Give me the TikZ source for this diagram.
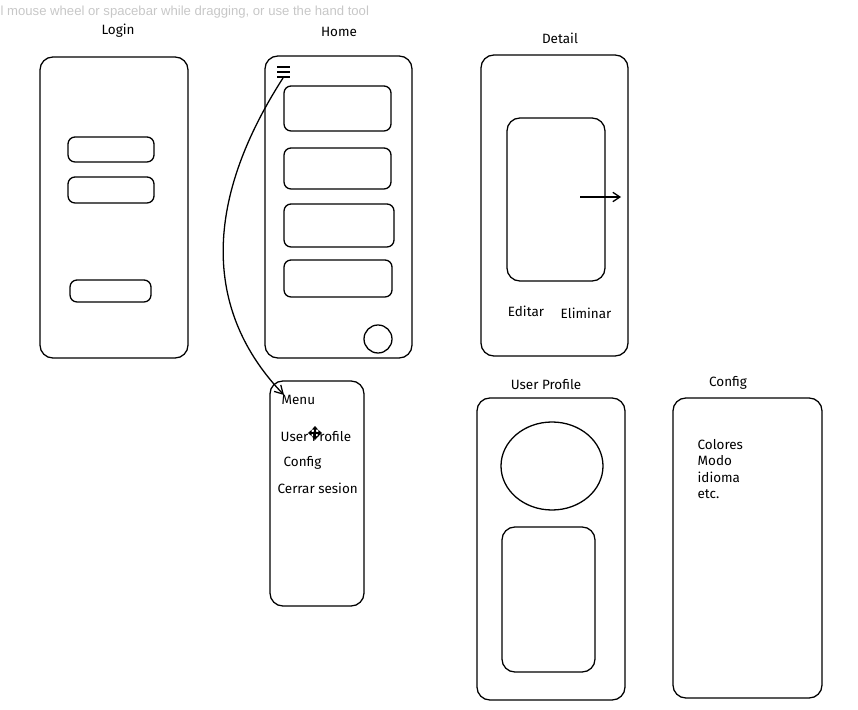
\documentclass[tikz,border=0pt]{standalone}
\usepackage{fontspec}
\setmainfont{Fira Sans}
\newfontfamily\hintfont{Liberation Sans}
\usetikzlibrary{fit,arrows.meta,shapes.geometric}

\begin{document}
\begin{tikzpicture}[x=0.03cm,y=-0.03cm,line width=1.1pt,
    screen/.style={draw,rounded corners=11pt,inner sep=0pt},
    cell/.style={draw,rounded corners=6pt,inner sep=0pt},
    lbl/.style={font=\fontsize{11.5}{13}\selectfont,inner sep=0pt},
    item/.style={lbl,anchor=west}]
  \useasboundingbox (0,0) rectangle (858,710);

  % hint of the canvas
  \node[anchor=west,inner sep=0pt,text=black!22,font=\hintfont\fontsize{11.2}{13}\selectfont] (hint) at (0,12)
    {l mouse wheel or spacebar while dragging, or use the hand tool};

  % screens
  \node[screen,fit={(40,57) (188,358)}] (login) {};
  \node[screen,fit={(265,56) (412,358)}] (home) {};
  \node[screen,fit={(481,55) (628,356)}] (detail) {};
  \node[screen,fit={(270,381) (364,606)}] (menu) {};
  \node[screen,fit={(477,398) (625,700)}] (profile) {};
  \node[screen,fit={(673,398) (822,698)}] (config) {};

  \node[lbl] (loginlbl) at (118,31) {Login};
  \node[lbl] (homelbl) at (339,32) {Home};
  \node[lbl] (detaillbl) at (560,38) {Detail};
  \node[lbl] (profilelbl) at (546,385) {User Profile};
  \node[lbl] (configlbl) at (728,383) {Config};

  % login
  \node[cell,fit={(68,137) (154,162)}] (user) {};
  \node[cell,fit={(68,177) (154,203)}] (pass) {};
  \node[cell,fit={(70,280) (151,302)}] (enter) {};

  % home
  \foreach \ya/\yb/\xb [count=\n] in {86/131/391,148/189/391,204/247/394,260/297/392}{
    \node[cell,fit={(284,\ya) (\xb,\yb)}] (card\n) {};
  }
  \node[draw,circle,minimum size=28*0.03cm,inner sep=0pt] (fab) at (378,339) {};
  \coordinate (ham) at (283,72);
  \foreach \d in {-5,0,5}{
    \draw ([xshift=-6*0.03cm,yshift=-\d*0.03cm]ham) -- ++(13,0);
  }

  % menu
  \node[item] (m0) at (281,400) {Menu};
  \node[item] (m1) at (280,437) {User Profile};
  \node[item] (m2) at (283,463) {Config};
  \node[item] (m3) at (277,488) {Cerrar sesion};
  \coordinate (menuin) at (284,395);
  \draw[-{Straight Barb[length=7pt,width=8pt]}] ([yshift=-6*0.03cm]ham)
    .. controls (195,215) and (212,320) .. (menuin);
  % cursor
  \coordinate (cur) at (315,433);
  \foreach \a in {0,90,180,270}{
    \draw[line width=1.2pt,-{Triangle[length=3pt,width=5pt]}] (cur) -- ++(\a:7);
  }

  % detail
  \node[screen,fit={(507,118) (605,281)}] (pic) {};
  \coordinate (nexta) at (580,197);
  \coordinate (nextb) at (621,197);
  \draw[-{Straight Barb[length=6pt,width=8pt]}] (nexta) -- (nextb);
  \node[lbl] (edit) at (526,311) {Editar};
  \node[lbl] (del) at (586,313) {Eliminar};

  % user profile
  \node[draw,ellipse,minimum width=102*0.03cm,minimum height=88*0.03cm,inner sep=0pt] (avatar) at (552,466) {};
  \node[screen,fit={(502,527) (595,672)}] (info) {};

  % config
  \foreach \t/\y [count=\n] in {Colores/445,Modo/461,idioma/477,etc./494}{
    \node[item] (c\n) at (697,\y) {\t};
  }
\end{tikzpicture}
\end{document}
